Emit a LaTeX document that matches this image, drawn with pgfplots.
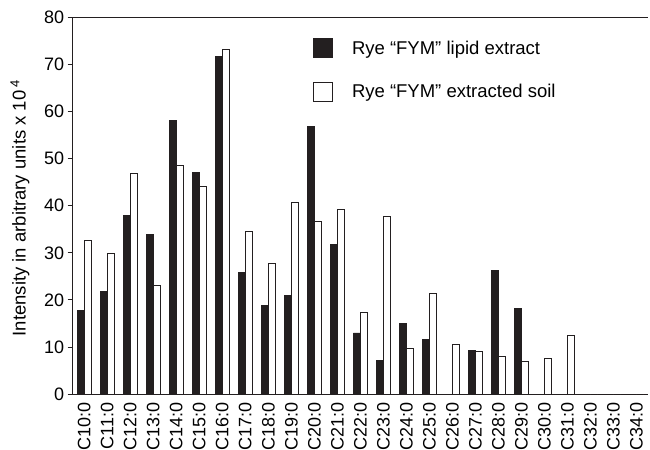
\documentclass[border=0pt]{standalone}
\usepackage{fontspec}
\setmainfont{Liberation Sans}
\usepackage{pgfplots}
\usepackage{pgfplotstable}
\pgfplotsset{compat=1.18}
\definecolor{barblack}{HTML}{231F20}

% chain length index, lipid extract, extracted soil
\pgfplotstableread{
x    lipid soil
0.5  17.7  32.6
1.5  21.9  29.9
2.5  37.9  46.8
3.5  33.9  23.1
4.5  58.0  48.5
5.5  47.0  44.1
6.5  71.6  73.2
7.5  25.8  34.6
8.5  18.9  27.7
9.5  20.9  40.6
10.5 56.8  36.7
11.5 31.8  39.3
12.5 13.0  17.3
13.5  7.2  37.7
14.5 15.1   9.8
15.5 11.7  21.4
16.5  0    10.5
17.5  9.3   9.0
18.5 26.3   8.1
19.5 18.2   6.9
20.5  0     7.6
21.5  0    12.4
22.5  0     0
23.5  0     0
24.5  0     0
}\data

\begin{document}
\begin{tikzpicture}
\useasboundingbox (0,0) rectangle (650bp,450bp);
\begin{axis}[
  at={(72.7bp,55.7bp)}, anchor=south west,
  scale only axis, width=575.3bp, height=377.3bp,
  xmin=0, xmax=25, ymin=0, ymax=80,
  axis x line*=bottom, axis y line*=left,
  axis line style={line width=1.4bp, color=barblack},
  tick align=outside,
  ytick={0,10,...,80},
  xtick={0.5,1.5,...,24.5},
  xticklabels={C10:0,C11:0,C12:0,C13:0,C14:0,C15:0,C16:0,C17:0,C18:0,C19:0,C20:0,C21:0,C22:0,C23:0,C24:0,C25:0,C26:0,C27:0,C28:0,C29:0,C30:0,C31:0,C32:0,C33:0,C34:0},
  minor xtick={0,1,...,25},
  xtick style={draw=none},
  minor tick length=5bp,
  major tick length=5bp,
  every tick/.style={line width=1bp, color=barblack},
  x tick label style={rotate=90, anchor=east, font=\fontsize{18bp}{20bp}\selectfont},
  y tick label style={font=\fontsize{18bp}{20bp}\selectfont},
  /pgf/number format/assume math mode=true,
  ylabel={Intensity in arbitrary units x 10\,\textsuperscript{4}},
  every axis y label/.style={at={(axis description cs:-0.0916,0.494)}, rotate=90, anchor=center, font=\fontsize{18.5bp}{20bp}\selectfont},
  ybar=0pt, bar width=7bp,
  legend style={at={(0.4177,0.944)}, anchor=north west, draw=none, fill=none,
    font=\fontsize{18.5bp}{20bp}\selectfont, row sep=24bp, inner sep=0pt,
    nodes={inner sep=0pt},
    /tikz/every odd column/.append style={column sep=19bp}},
  legend cell align=left,
  legend image code/.code={\draw[#1] (0bp,-9.5bp) rectangle (19bp,9.5bp);},
]
\addplot[fill=barblack, draw=barblack, line width=0.8bp] table[x=x, y=lipid] {\data};
\addplot[fill=white, draw=barblack, line width=0.8bp] table[x=x, y=soil] {\data};
\legend{Rye “FYM” lipid extract, Rye “FYM” extracted soil}
\draw[line width=1.4bp, color=barblack] (rel axis cs:0,1) -- (rel axis cs:1,1);
\end{axis}
\end{tikzpicture}
\end{document}
